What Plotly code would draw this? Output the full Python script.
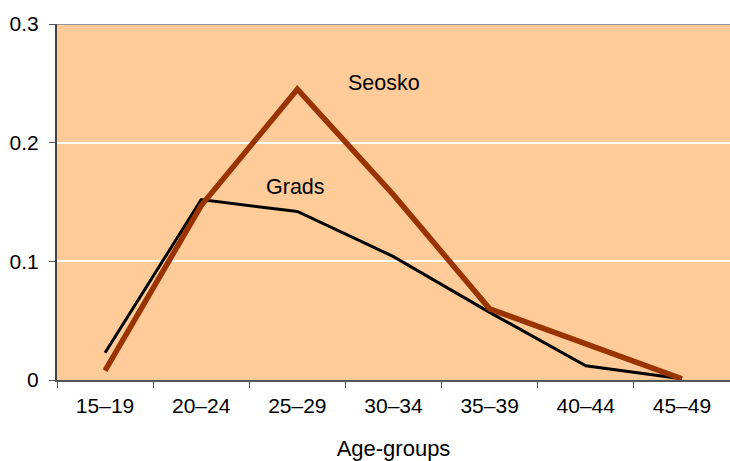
import plotly.graph_objects as go

age_groups = ["15–19", "20–24", "25–29", "30–34", "35–39", "40–44", "45–49"]
seosko = [0.008, 0.147, 0.245, 0.156, 0.060, 0.031, 0.001]
grads = [0.023, 0.152, 0.142, 0.104, 0.057, 0.012, 0.001]
y_ticks = [0, 0.1, 0.2, 0.3]
y_labels = ["0", "0.1", "0.2", "0.3"]

font = "Liberation Sans, Arial, sans-serif"

fig = go.Figure()
fig.add_trace(go.Scatter(x=age_groups, y=grads, mode="lines",
                         line=dict(color="#000000", width=3), name="Grads"))
fig.add_trace(go.Scatter(x=age_groups, y=seosko, mode="lines",
                         line=dict(color="#993300", width=5.5), name="Seosko"))

fig.add_annotation(x="30–34", y=0.250, text="Seosko", showarrow=False,
                   font=dict(size=21.5, color="#000000", family=font), xshift=-10)
fig.add_annotation(x="25–29", y=0.163, text="Grads", showarrow=False,
                   font=dict(size=21.5, color="#000000", family=font), xshift=-2)

fig.add_shape(type="line", xref="paper", yref="y", x0=0, x1=1, y0=0.3, y1=0.3,
              line=dict(color="#999999", width=2))

fig.update_layout(
    width=730, height=461,
    margin=dict(l=57, r=0, t=24, b=81, autoexpand=False),
    paper_bgcolor="#ffffff",
    plot_bgcolor="#FFCC99",
    showlegend=False,
    font=dict(family=font, size=21, color="#000000"),
    xaxis=dict(
        type="category", range=[-0.5, 6.5],
        tickson="boundaries", ticks="outside", ticklen=6, tickcolor="#555555",
        showline=True, linecolor="#555555", linewidth=2,
        showgrid=False,
        tickfont=dict(size=21),
        ticklabelstandoff=6,
        title=dict(text="Age-groups", font=dict(size=22), standoff=28),
    ),
    yaxis=dict(
        range=[0, 0.3], tickvals=y_ticks, ticktext=y_labels,
        ticks="outside", ticklen=6, tickcolor="#555555",
        showline=True, linecolor="#444444", linewidth=2,
        showgrid=True, gridcolor="#ffffff", gridwidth=2,
        zeroline=False,
        tickfont=dict(size=21),
        ticklabelstandoff=6,
    ),
)

fig.write_html(
    "out.html",
    config={"displayModeBar": False},
    post_script=(
        "document.documentElement.style.overflow='hidden';"
        "document.body.style.margin='0';"
        "document.body.style.overflow='hidden';"
    ),
)
